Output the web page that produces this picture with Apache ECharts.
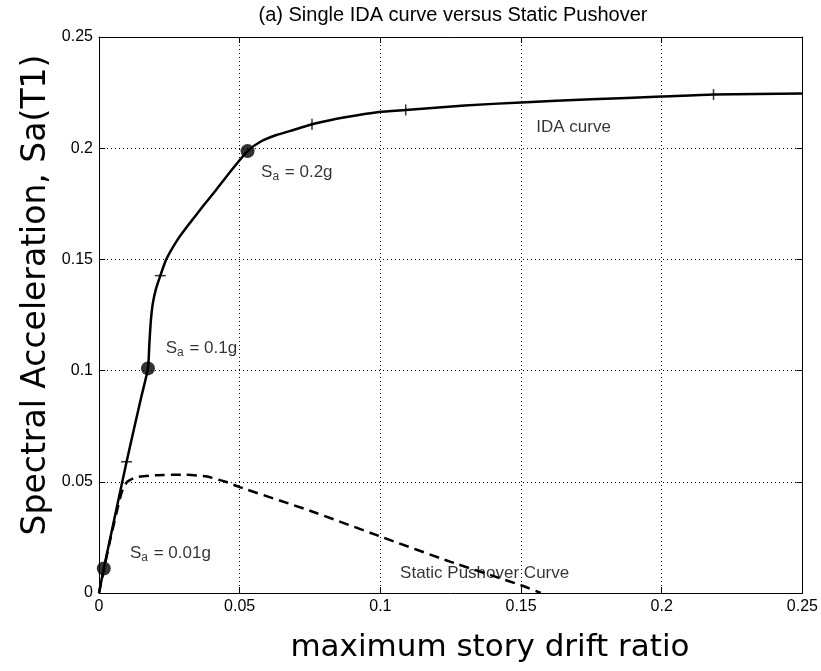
<!DOCTYPE html>
<html><head><meta charset="utf-8">
<script src="https://cdn.jsdelivr.net/npm/echarts@6/dist/echarts.min.js"></script>
<style>html,body{margin:0;padding:0;background:#fff}#c{width:821px;height:671px}</style>
</head><body><div id="c"></div>
<script>
// IDA curve (maximum story drift ratio vs Sa)
const idaX = [0, 0.0017, 0.0098, 0.0150, 0.0174, 0.0179, 0.0184, 0.0191, 0.0202, 0.0218, 0.0239, 0.0280, 0.0322, 0.0370, 0.0416, 0.0470, 0.0528, 0.0575, 0.0628, 0.0699, 0.0757, 0.0880, 0.0995, 0.109, 0.130, 0.150, 0.175, 0.200, 0.2184, 0.250];
const idaY = [0, 0.011, 0.059, 0.088, 0.101, 0.112, 0.122, 0.130, 0.1365, 0.1427, 0.1500, 0.1590, 0.1662, 0.1740, 0.1812, 0.1900, 0.1987, 0.2030, 0.2058, 0.2085, 0.2108, 0.2140, 0.2163, 0.2172, 0.2192, 0.2206, 0.2220, 0.2232, 0.2241, 0.2246];
// Static pushover curve
const pushX = [0, 0.004, 0.008, 0.010, 0.013, 0.020, 0.030, 0.038, 0.045, 0.050, 0.075, 0.100, 0.125, 0.150, 0.157];
const pushY = [0, 0.024, 0.045, 0.050, 0.052, 0.053, 0.0532, 0.0525, 0.050, 0.0476, 0.037, 0.0254, 0.014, 0.0035, 0];
// Highlighted IDA points
const dotX = [0.0017, 0.0174, 0.0528];
const dotY = [0.011, 0.101, 0.1987];
// Small tick marks on the IDA curve
const markX = [0.0098, 0.0218, 0.0757, 0.109, 0.2184];
const markY = [0.059, 0.1427, 0.2108, 0.2172, 0.2241];
const markDir = ['h', 'h', 'v', 'v', 'v'];
// Annotations
const noteX = [0.011, 0.0237, 0.0576, 0.1554, 0.107];
const noteY = [0.018, 0.110, 0.1893, 0.2095, 0.009];
const noteText = ['{s|S}{sub|a}{s| = 0.01g}', '{s|S}{sub|a}{s| = 0.1g}', '{s|S}{sub|a}{s| = 0.2g}', '{s|IDA curve}', '{s|Static Pushover Curve}'];
// Axes
const axisMin = 0, axisMax = 0.25, axisStep = 0.05;
const titleText = '(a) Single IDA curve versus Static Pushover';
const xName = 'maximum story drift ratio';
const yName = 'Spectral Acceleration, Sa(T1)';

const chart = echarts.init(document.getElementById('c'), null, {renderer: 'canvas'});
const tickFont = {color: '#000', fontSize: 16, fontFamily: 'Liberation Sans, Arial, sans-serif'};
function axisBase(pos, showLabel, showSplit) {
  return {
    type: 'value', min: axisMin, max: axisMax, interval: axisStep, position: pos,
    axisLine: {show: true, onZero: false, lineStyle: {color: '#000', width: 1}},
    axisTick: {show: true, inside: true, length: 6, lineStyle: {color: '#000', width: 1}},
    axisLabel: Object.assign({show: showLabel, margin: 6}, tickFont),
    splitLine: {show: showSplit, lineStyle: {color: '#000', width: 1, type: [1, 3]}}
  };
}
const rich = {
  s: {fontSize: 17, fontFamily: 'Liberation Sans, Arial, sans-serif', color: '#000', lineHeight: 20},
  sub: {fontSize: 12, fontFamily: 'Liberation Sans, Arial, sans-serif', color: '#000', lineHeight: 20, padding: [9, 1, 0, 0]}
};
chart.setOption({
  animation: false,
  backgroundColor: '#fff',
  grid: {left: 99, top: 37, right: 16, bottom: 78, containLabel: false},
  xAxis: [axisBase('bottom', true, true), axisBase('top', false, false)],
  yAxis: [axisBase('left', true, true), axisBase('right', false, false)],
  graphic: [
    {type: 'text', x: 453, y: 15, style: {text: titleText, fill: '#000', font: '20px "Liberation Sans", Arial, sans-serif', textAlign: 'center', textVerticalAlign: 'middle'}},
    {type: 'text', x: 490, y: 648, style: {text: xName, fill: '#000', font: '31px "DejaVu Sans", Verdana, sans-serif', textAlign: 'center', textVerticalAlign: 'middle'}},
    {type: 'text', x: 36, y: 295, rotation: Math.PI / 2, style: {text: yName, fill: '#000', font: '33px "DejaVu Sans", Verdana, sans-serif', textAlign: 'center', textVerticalAlign: 'middle'}}
  ],
  series: [
    {type: 'line', data: idaX.map((x, i) => [x, idaY[i]]), showSymbol: false, symbol: 'none', smooth: 0.2,
     lineStyle: {color: '#000', width: 2.5}, z: 3},
    {type: 'line', data: pushX.map((x, i) => [x, pushY[i]]), showSymbol: false, symbol: 'none', smooth: 0.15,
     lineStyle: {color: '#000', width: 2.5, type: [10, 6]}, z: 3},
    {type: 'scatter', data: dotX.map((x, i) => [x, dotY[i]]), symbol: 'circle', symbolSize: 14,
     itemStyle: {color: '#000'}, z: 4},
    {type: 'scatter', data: markX.map((x, i) => ({value: [x, markY[i]], symbolSize: markDir[i] === 'h' ? [11, 1.5] : [1.5, 11]})),
     symbol: 'rect', itemStyle: {color: '#000'}, z: 4},
    {type: 'scatter', data: noteX.map((x, i) => ({value: [x, noteY[i]], label: {formatter: noteText[i]}})),
     symbolSize: 0, silent: true,
     label: {show: true, position: 'right', distance: 0, rich: rich}, z: 5}
  ]
});
</script></body></html>
